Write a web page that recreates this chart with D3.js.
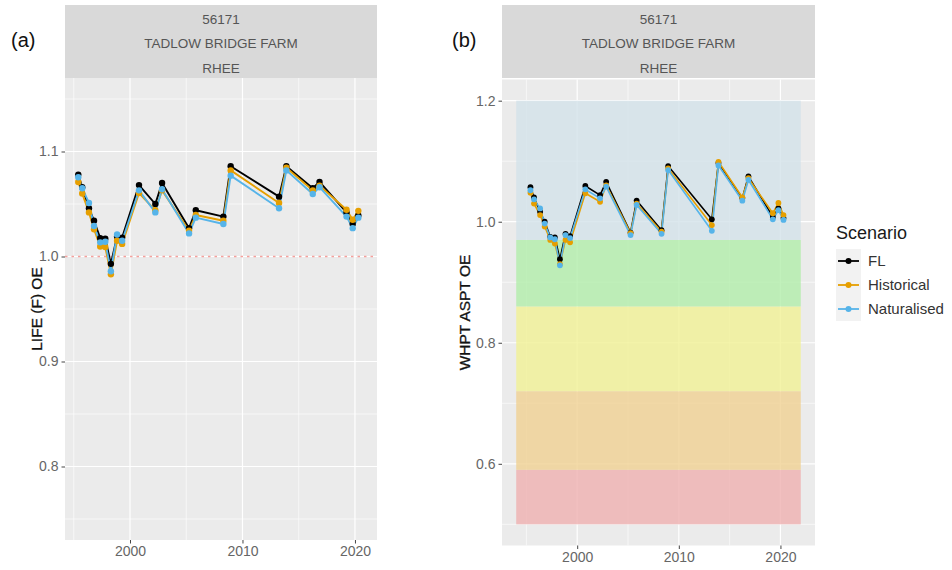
<!DOCTYPE html>
<html>
<head>
<meta charset="utf-8">
<script src="https://cdn.jsdelivr.net/npm/d3@7/dist/d3.min.js"></script>
<style>
  html, body { margin: 0; padding: 0; background: #ffffff; }
  svg { display: block; font-family: "Liberation Sans", Arial, sans-serif; }
</style>
</head>
<body>
<svg id="chart" width="952" height="570"></svg>
<script>
// Sampling dates (decimal years)
const years = [1995.4, 1995.75, 1996.35, 1996.8, 1997.35, 1997.8, 1998.3, 1998.85, 1999.3,
  2000.8, 2002.25, 2002.85, 2005.25, 2005.85, 2008.3, 2008.95, 2013.25, 2013.9,
  2016.25, 2016.85, 2019.25, 2019.8, 2020.3];

// LIFE (F) O/E per scenario
const lifeFL   = [1.078, 1.066, 1.046, 1.034, 1.0175, 1.017, 0.993, 1.019, 1.018, 1.068, 1.050, 1.070,
  1.027, 1.044, 1.038, 1.086, 1.057, 1.086, 1.065, 1.071, 1.042, 1.031, 1.039];
const lifeHist = [1.071, 1.060, 1.042, 1.026, 1.0095, 1.009, 0.983, 1.015, 1.012, 1.0605, 1.044, 1.063,
  1.0245, 1.0395, 1.034, 1.082, 1.051, 1.0845, 1.063, 1.0675, 1.0445, 1.035, 1.0435];
const lifeNat  = [1.0755, 1.065, 1.051, 1.029, 1.0135, 1.014, 0.986, 1.021, 1.015, 1.063, 1.042, 1.064,
  1.022, 1.037, 1.031, 1.077, 1.046, 1.082, 1.0595, 1.066, 1.038, 1.027, 1.037];

// WHPT ASPT O/E per scenario
const whptFL   = [1.057, 1.040, 1.0165, 1.000, 0.975, 0.974, 0.938, 0.980, 0.976, 1.059, 1.044, 1.066,
  0.982, 1.035, 0.986, 1.092, 1.004, 1.097, 1.039, 1.075, 1.008, 1.022, 1.006];
const whptHist = [1.048, 1.030, 1.011, 0.992, 0.970, 0.964, 0.930, 0.970, 0.966, 1.047, 1.033, 1.060,
  0.981, 1.030, 0.9835, 1.088, 0.9945, 1.099, 1.040, 1.072, 1.014, 1.031, 1.011];
const whptNat  = [1.052, 1.037, 1.022, 0.997, 0.974, 0.971, 0.928, 0.978, 0.973, 1.0535, 1.0386, 1.058,
  0.978, 1.0276, 0.980, 1.0854, 0.985, 1.093, 1.0347, 1.069, 1.004, 1.019, 1.003];

const scenarios = ["FL", "Historical", "Naturalised"];
const stripLines = ["56171", "TADLOW BRIDGE FARM", "RHEE"];

// WFD status class boundaries for WHPT ASPT (bad .. high)
const bandBreaks = [0.5, 0.59, 0.72, 0.86, 0.97, 1.2];
const bandYears = [1994, 2022];
const lifeRef = 1.0;

const xTicks = [2000, 2010, 2020];
const xMinor = [1995, 2005, 2015];
const lifeTicks = [0.8, 0.9, 1.0, 1.1];
const lifeMinor = [0.75, 0.85, 0.95, 1.05, 1.15];
const whptTicks = [0.6, 0.8, 1.0, 1.2];
const whptMinor = [0.5, 0.7, 0.9, 1.1];

const colour = d3.scaleOrdinal().domain(scenarios).range(["#000000", "#E69F00", "#56B4E9"]);
const bandFill = ["#efb0b0", "#f0d192", "#f1f195", "#b1edaa", "#d3e2ea"];

const svg = d3.select("#chart");

function panel(cfg) {
  const { x0, x1, y0, y1, xDom, yDom } = cfg;
  const x = d3.scaleLinear().domain(xDom).range([x0, x1]);
  const y = d3.scaleLinear().domain(yDom).range([y1, y0]);
  const g = svg.append("g");

  // strip
  g.append("rect").attr("x", x0).attr("y", 5).attr("width", x1 - x0).attr("height", 73).attr("fill", "#d9d9d9");
  stripLines.forEach((t, i) => {
    g.append("text").attr("x", (x0 + x1) / 2).attr("y", 19 + i * 24.5).attr("dy", "0.35em")
      .attr("text-anchor", "middle").attr("font-size", 13.5).attr("fill", "#555555").text(t);
  });

  // panel background
  g.append("rect").attr("x", x0).attr("y", y0).attr("width", x1 - x0).attr("height", y1 - y0).attr("fill", "#ebebeb");

  const grid = g.append("g").attr("stroke", "#ffffff");
  grid.selectAll(".ym").data(cfg.yMinor).join("line")
    .attr("x1", x0).attr("x2", x1).attr("y1", d => y(d)).attr("y2", d => y(d)).attr("stroke-width", 0.6);
  grid.selectAll(".xm").data(xMinor).join("line")
    .attr("y1", y0).attr("y2", y1).attr("x1", d => x(d)).attr("x2", d => x(d)).attr("stroke-width", 0.6);
  grid.selectAll(".yM").data(cfg.yTicks).join("line")
    .attr("x1", x0).attr("x2", x1).attr("y1", d => y(d)).attr("y2", d => y(d)).attr("stroke-width", 1.2);
  grid.selectAll(".xM").data(xTicks).join("line")
    .attr("y1", y0).attr("y2", y1).attr("x1", d => x(d)).attr("x2", d => x(d)).attr("stroke-width", 1.2);

  if (cfg.extra) cfg.extra(g, x, y);

  // series: all lines first, then all points
  const line = d3.line().x(d => x(d[0])).y(d => y(d[1]));
  const series = cfg.series.map((vals, i) => ({ name: scenarios[i], pts: years.map((yr, j) => [yr, vals[j]]) }));
  series.forEach(s => {
    g.append("path").attr("d", line(s.pts)).attr("fill", "none")
      .attr("stroke", colour(s.name)).attr("stroke-width", cfg.lw).attr("stroke-linejoin", "round");
  });
  series.forEach(s => {
    g.append("g").selectAll("circle").data(s.pts).join("circle")
      .attr("cx", d => x(d[0])).attr("cy", d => y(d[1])).attr("r", cfg.r).attr("fill", colour(s.name));
  });

  // axes
  const ax = g.append("g").attr("transform", `translate(${x0},0)`)
    .call(d3.axisLeft(y).tickValues(cfg.yTicks).tickSize(3.5).tickPadding(3).tickFormat(d3.format(".1f")));
  const bx = g.append("g").attr("transform", `translate(0,${y1})`)
    .call(d3.axisBottom(x).tickValues(xTicks).tickSize(3.5).tickPadding(3).tickFormat(d3.format("d")));
  [ax, bx].forEach(a => {
    a.select(".domain").remove();
    a.selectAll(".tick line").attr("stroke", "#444444").attr("stroke-width", 1);
    a.selectAll(".tick text").attr("fill", "#666666").attr("font-size", 14)
      .attr("font-family", "Liberation Sans, Arial, sans-serif");
  });

  // axis title
  g.append("text").attr("transform", `translate(${cfg.titleX},${(y0 + y1) / 2}) rotate(-90)`)
    .attr("text-anchor", "middle").attr("dy", "0.35em").attr("font-size", 15.5).attr("fill", "#111111")
    .attr("stroke", "#111111").attr("stroke-width", 0.3)
    .text(cfg.title);

  // panel tag
  g.append("text").attr("x", cfg.tagX).attr("y", 47).attr("font-size", 20).attr("fill", "#111111").text(cfg.tag);
  return { x, y };
}

panel({
  x0: 65, x1: 377, y0: 78, y1: 540,
  xDom: [1994.22, 2021.96], yDom: [0.73, 1.17],
  yTicks: lifeTicks, yMinor: lifeMinor,
  series: [lifeFL, lifeHist, lifeNat],
  lw: 1.9, r: 3.2,
  title: "LIFE (F) OE", titleX: 37, tag: "(a)", tagX: 11,
  extra: (g, x, y) => {
    g.append("line").attr("x1", x.range()[0]).attr("x2", x.range()[1])
      .attr("y1", y(lifeRef)).attr("y2", y(lifeRef))
      .attr("stroke", "#f4a09c").attr("stroke-width", 1.6).attr("stroke-dasharray", "2.5,4");
  }
});

panel({
  x0: 502, x1: 815, y0: 79.5, y1: 545.5,
  xDom: [1992.6, 2023.4], yDom: [0.465, 1.235],
  yTicks: whptTicks, yMinor: whptMinor,
  series: [whptFL, whptHist, whptNat],
  lw: 1.6, r: 2.9,
  title: "WHPT ASPT OE", titleX: 465, tag: "(b)", tagX: 452,
  extra: (g, x, y) => {
    const bands = d3.pairs(bandBreaks);
    g.append("g").selectAll("rect").data(bands).join("rect")
      .attr("x", x(bandYears[0])).attr("width", x(bandYears[1]) - x(bandYears[0]))
      .attr("y", d => y(d[1])).attr("height", d => y(d[0]) - y(d[1]))
      .attr("fill", (d, i) => bandFill[i]).attr("fill-opacity", 0.8);
  }
});

// legend
const leg = svg.append("g");
leg.append("text").attr("x", 836).attr("y", 239).attr("font-size", 18).attr("fill", "#1a1a1a").text("Scenario");
scenarios.forEach((s, i) => {
  const cy = 261 + i * 24;
  leg.append("rect").attr("x", 836).attr("y", cy - 12).attr("width", 25).attr("height", 24).attr("fill", "#f2f2f2");
  leg.append("line").attr("x1", 838).attr("x2", 859).attr("y1", cy).attr("y2", cy)
    .attr("stroke", colour(s)).attr("stroke-width", 1.8);
  leg.append("circle").attr("cx", 848.5).attr("cy", cy).attr("r", 3).attr("fill", colour(s));
  leg.append("text").attr("x", 868).attr("y", cy).attr("dy", "0.35em").attr("font-size", 15)
    .attr("fill", "#333333").text(s);
});
</script>
</body>
</html>
